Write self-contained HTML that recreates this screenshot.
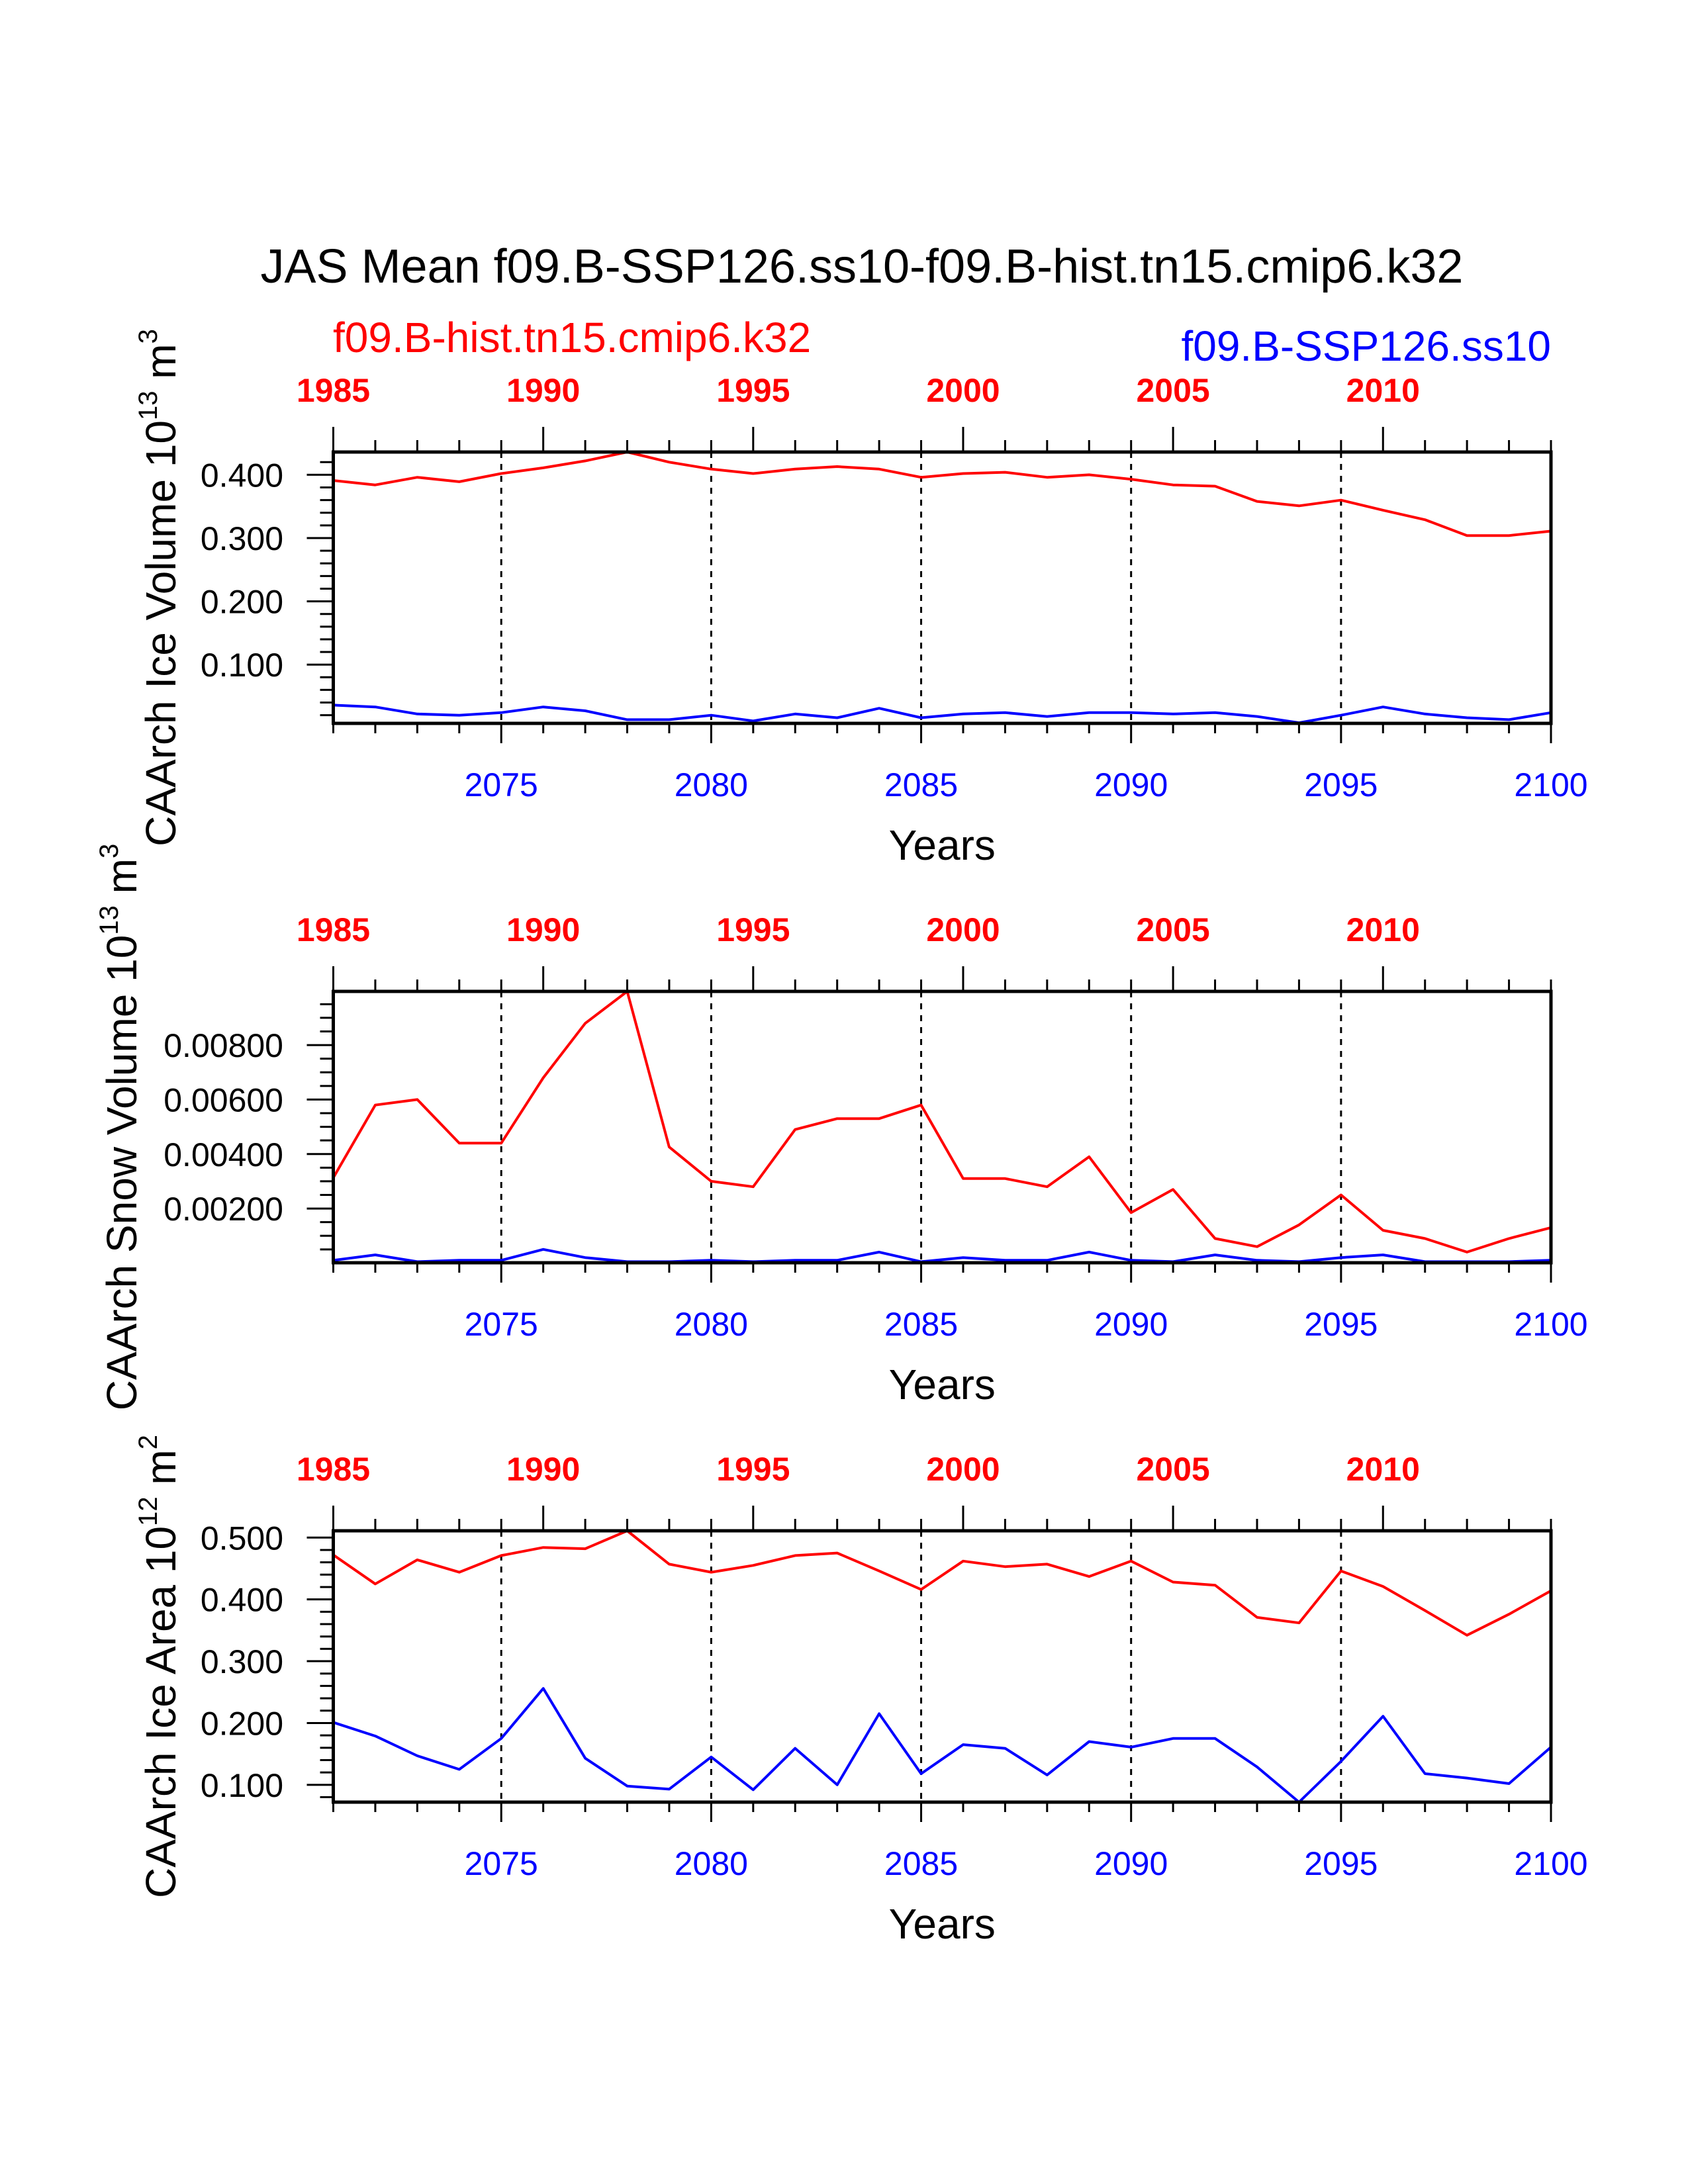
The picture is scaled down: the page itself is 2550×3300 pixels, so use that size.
<!DOCTYPE html>
<html><head><meta charset="utf-8"><style>
html,body{margin:0;padding:0;background:#fff;}
svg{display:block;font-family:"Liberation Sans",Arial,sans-serif;}
</style></head><body>
<svg id="chart" width="2550" height="3300" viewBox="0 0 2550 3300" xmlns="http://www.w3.org/2000/svg">
<rect x="0" y="0" width="2550" height="3300" fill="#fff"/>
<text x="1302" y="427" font-size="72" text-anchor="middle">JAS Mean f09.B-SSP126.ss10-f09.B-hist.tn15.cmip6.k32</text>
<text x="503" y="532" font-size="64" fill="#ff0000">f09.B-hist.tn15.cmip6.k32</text>
<text x="2343" y="545" font-size="64" fill="#0000ff" text-anchor="end">f09.B-SSP126.ss10</text>
<g id="plots"></g>
</svg>
<script>
const years = [2071,2072,2073,2074,2075,2076,2077,2078,2079,2080,2081,2082,2083,2084,2085,2086,2087,2088,2089,2090,2091,2092,2093,2094,2095,2096,2097,2098,2099,2100];
const bottomTickYears = [2075,2080,2085,2090,2095,2100];
const topTickLabels = ["1985","1990","1995","2000","2005","2010"];
const iceVolHist = [0.391,0.384,0.396,0.389,0.402,0.411,0.422,0.436,0.420,0.409,0.402,0.409,0.413,0.409,0.396,0.402,0.404,0.396,0.400,0.393,0.384,0.382,0.358,0.351,0.360,0.344,0.329,0.304,0.304,0.311];
const iceVolSsp = [0.036,0.033,0.022,0.020,0.024,0.033,0.027,0.013,0.013,0.020,0.011,0.022,0.016,0.031,0.016,0.022,0.024,0.018,0.024,0.024,0.022,0.024,0.018,0.008,0.020,0.033,0.022,0.016,0.013,0.024];
const snowVolHist = [0.00313,0.0058,0.0060,0.0044,0.0044,0.0068,0.0088,0.00997,0.00426,0.0030,0.0028,0.0049,0.0053,0.0053,0.0058,0.0031,0.0031,0.0028,0.0039,0.00185,0.0027,0.0009,0.0006,0.0014,0.0025,0.0012,0.0009,0.0004,0.0009,0.0013];
const snowVolSsp = [0.0001,0.0003,0.00005,0.0001,0.0001,0.0005,0.0002,0.00005,0.00005,0.0001,0.00005,0.0001,0.0001,0.0004,0.00005,0.0002,0.0001,0.0001,0.0004,0.0001,0.00005,0.0003,0.0001,0.00005,0.0002,0.0003,0.00005,0.00005,0.00005,0.0001];
const iceAreaHist = [0.472,0.425,0.464,0.444,0.471,0.484,0.482,0.511,0.457,0.444,0.455,0.471,0.475,0.446,0.416,0.462,0.453,0.457,0.437,0.462,0.428,0.423,0.371,0.362,0.446,0.421,0.382,0.342,0.376,0.414];
const iceAreaSsp = [0.201,0.179,0.147,0.125,0.175,0.256,0.143,0.098,0.093,0.145,0.092,0.159,0.100,0.215,0.118,0.165,0.159,0.116,0.170,0.161,0.175,0.175,0.129,0.072,0.138,0.211,0.118,0.111,0.102,0.161];
const iceVolTicks = [0.1,0.2,0.3,0.4];
const iceVolTickLabels = ["0.100","0.200","0.300","0.400"];
const snowVolTicks = [0.002,0.004,0.006,0.008];
const snowVolTickLabels = ["0.00200","0.00400","0.00600","0.00800"];
const iceAreaTicks = [0.1,0.2,0.3,0.4,0.5];
const iceAreaTickLabels = ["0.100","0.200","0.300","0.400","0.500"];

const NS="http://www.w3.org/2000/svg";
const root=document.getElementById('plots');
const L=503.5, R=2343;
function mk(tag,attrs,parent){const e=document.createElementNS(NS,tag);for(const k in attrs)e.setAttribute(k,attrs[k]);parent.appendChild(e);return e;}
const xs=v=>L+(v-2071)/(2100-2071)*(R-L);

function plot(cfg){
  const g=mk('g',{},root);
  
  
  const T=cfg.top,B=cfg.top+410;
  const ys=v=>B-(v-cfg.ymin)/(cfg.ymax-cfg.ymin)*(B-T);
  // dashed grid
  bottomTickYears.forEach(y=>{ if(y<2100){const l=mk('line',{x1:xs(y),x2:xs(y),y1:T,y2:B,stroke:'#000','stroke-width':3,'stroke-dasharray':'9,9'},g);
    
    }});
  // series
  [[cfg.hist,'#ff0000','series-hist'],[cfg.ssp,'#0000ff','series-ssp']].forEach(([arr,c,n])=>{
    const pts=arr.map((v,i)=>xs(years[i]).toFixed(1)+','+ys(v).toFixed(1)).join(' ');
    const p=mk('polyline',{points:pts,fill:'none',stroke:c,'stroke-width':4,'stroke-linejoin':'round'},g);
    
    
  });
  // frame
  const f=mk('rect',{x:L,y:T,width:R-L,height:B-T,fill:'none',stroke:'#000','stroke-width':5},g);
  
  
  // x ticks
  let d='';
  for(let y=2071;y<=2100;y++){
    const x=xs(y);
    const maj=(y%5===0);
    d+=`M${x},${B}V${B+(maj?30:15)}`;
    const tmaj=((y-2071)%5===0);
    d+=`M${x},${T}V${T-(tmaj?38:18)}`;
  }
  // y ticks
  for(let v=cfg.minorStart;v<=cfg.ymax+1e-9;v+=cfg.minor){
    if(v<cfg.ymin-1e-9)continue;
    const isMaj=cfg.ticks.some(t=>Math.abs(t-v)<cfg.minor/10);
    d+=`M${L},${ys(v)}H${L-(isMaj?40:20)}`;
  }
  const tk=mk('path',{d:d,stroke:'#000','stroke-width':3,fill:'none'},g);
  
  
  cfg.ticks.forEach((v,i)=>{const t=mk('text',{x:428,y:ys(v)+18,'font-size':50,'text-anchor':'end'},g);t.textContent=cfg.labels[i];
    
    });
  bottomTickYears.forEach(y=>{const t=mk('text',{x:xs(y),y:B+110,'font-size':50,'text-anchor':'middle',fill:'#0000ff'},g);t.textContent=String(y);
    
    });
  topTickLabels.forEach((s,i)=>{const t=mk('text',{x:xs(2071+5*i),y:T-76,'font-size':50,'font-weight':'bold','text-anchor':'middle',fill:'#ff0000'},g);t.textContent=s;
    
    });
  const yr=mk('text',{x:(L+R)/2,y:B+206,'font-size':64,'text-anchor':'middle'},g);yr.textContent='Years';
  
  
  const yt=mk('text',{x:0,y:0,'font-size':64,'text-anchor':'middle',transform:`translate(${cfg.tx},${(T+B)/2}) rotate(-90)`},g);
  
  
  yt.innerHTML=cfg.title+' 10<tspan font-size="40" dy="-28">'+cfg.e+'</tspan><tspan dy="28"> m</tspan><tspan font-size="40" dy="-28">'+cfg.u+'</tspan>';
}
plot({name:'ice-volume-plot',top:683,ymin:0.0071,ymax:0.436,hist:iceVolHist,ssp:iceVolSsp,ticks:iceVolTicks,labels:iceVolTickLabels,minor:0.02,minorStart:0.02,tx:265,title:'CAArch Ice Volume',e:'13',u:'3'});
plot({name:'snow-volume-plot',top:1498,ymin:0.00001,ymax:0.00997,hist:snowVolHist,ssp:snowVolSsp,ticks:snowVolTicks,labels:snowVolTickLabels,minor:0.0005,minorStart:0.0005,tx:206,title:'CAArch Snow Volume',e:'13',u:'3'});
plot({name:'ice-area-plot',top:2313,ymin:0.072,ymax:0.511,hist:iceAreaHist,ssp:iceAreaSsp,ticks:iceAreaTicks,labels:iceAreaTickLabels,minor:0.02,minorStart:0.08,tx:265,title:'CAArch Ice Area',e:'12',u:'2'});
</script>
</body></html>
